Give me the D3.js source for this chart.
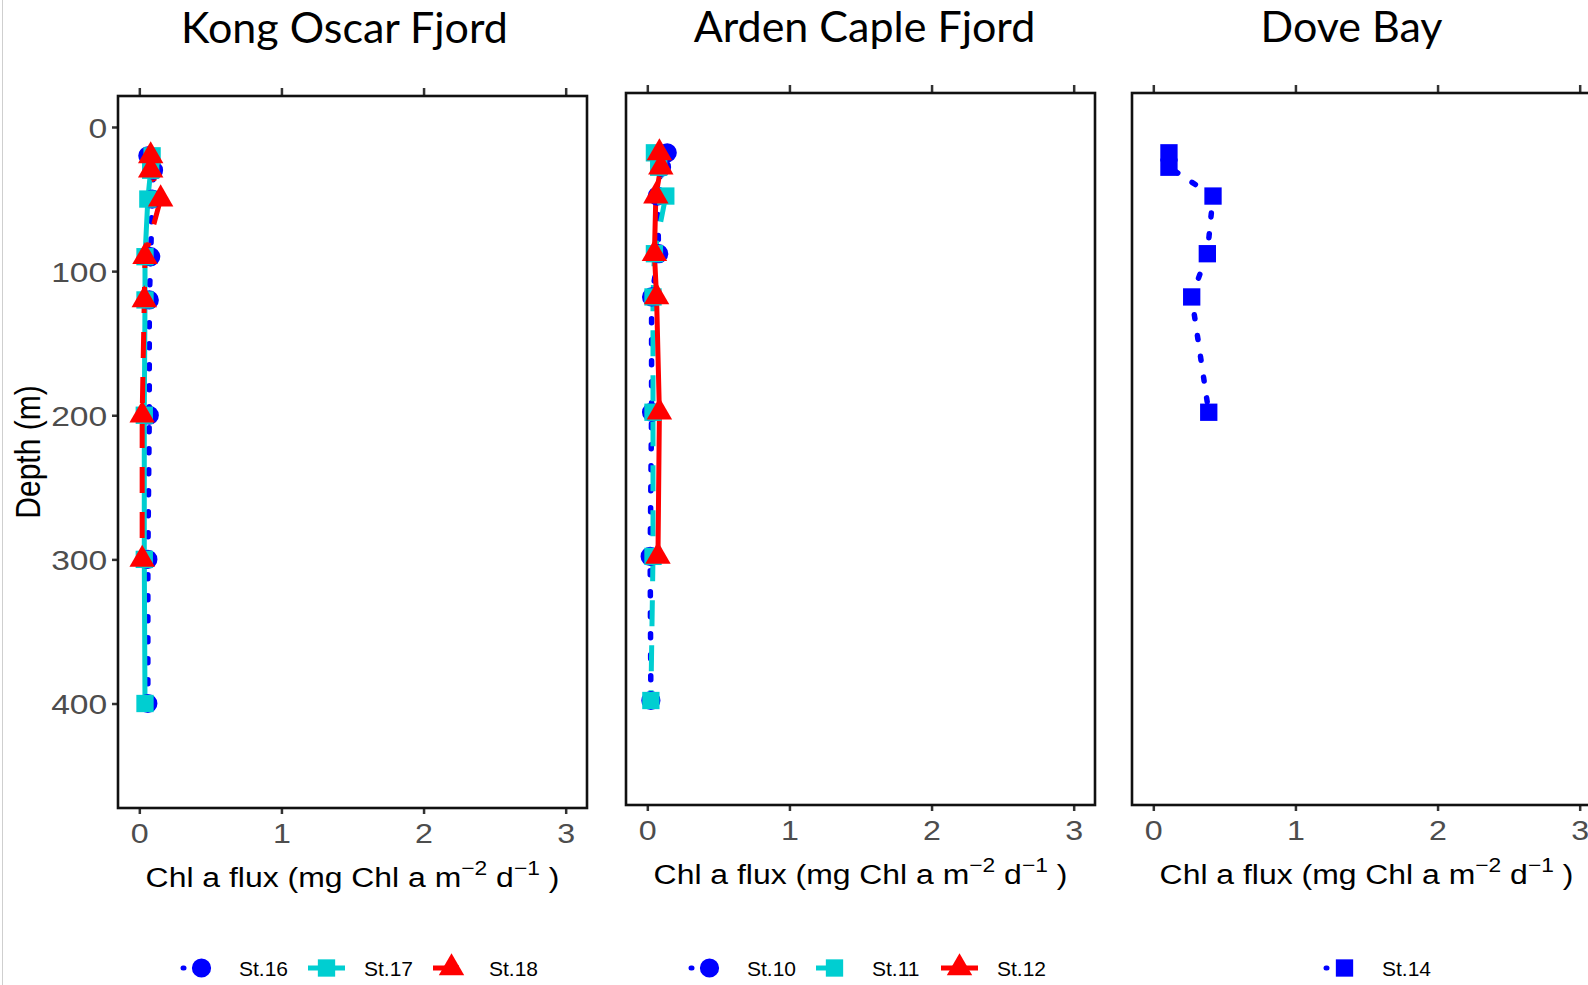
<!DOCTYPE html>
<html>
<head>
<meta charset="utf-8">
<script src="https://cdn.jsdelivr.net/npm/d3@7/dist/d3.min.js"></script>
<style>
  body { margin: 0; background: #fff; }
  svg { display: block; }
</style>
</head>
<body>
<svg id="grafico"></svg>
<script>
// Dados (profundidade em m, fluxo em mg Chl a m-2 d-1)
let titulos = ["Kong Oscar Fjord", "Arden Caple Fjord", "Dove Bay"];
let ticksX = [0, 1, 2, 3];
let ticksY = [0, 100, 200, 300, 400];

// Kong Oscar Fjord
let prof16 = [20, 30, 50, 90, 120, 200, 300, 400];
let fluxo16 = [0.06, 0.1, 0.09, 0.08, 0.07, 0.07, 0.06, 0.06];
let prof17 = [20, 30, 50, 90, 120, 200, 300, 400];
let fluxo17 = [0.09, 0.08, 0.06, 0.04, 0.04, 0.035, 0.035, 0.04];
let prof18 = [20, 30, 50, 90, 120, 200, 300];
let fluxo18 = [0.08, 0.08, 0.15, 0.04, 0.035, 0.02, 0.02];

// Arden Caple Fjord
let prof10 = [20, 30, 50, 90, 120, 200, 300, 400];
let fluxo10 = [0.14, 0.1, 0.07, 0.08, 0.03, 0.03, 0.02, 0.025];
let prof11 = [20, 30, 50, 90, 120, 200, 300, 400];
let fluxo11 = [0.05, 0.08, 0.13, 0.05, 0.04, 0.04, 0.04, 0.025];
let prof12 = [20, 30, 50, 90, 120, 200, 300];
let fluxo12 = [0.085, 0.095, 0.06, 0.05, 0.065, 0.085, 0.075];

// Dove Bay
let prof14 = [20, 30, 50, 90, 120, 200];
let fluxo14 = [0.11, 0.11, 0.42, 0.38, 0.27, 0.39];

// Estilos
let azul = "#0000ff", ciano = "#00ced1", vermelho = "#ff0000";
let tracos = { pontilhado: "4,17", tracejado: "26,19", solido: null };

let paineis = [
  {
    titulo: titulos[0], esq: 118, topo: 96, desvioTitulo: -8,
    series: [
      { nome: "St.16", prof: prof16, val: fluxo16, cor: azul, linha: "pontilhado", simbolo: d3.symbolCircle },
      { nome: "St.17", prof: prof17, val: fluxo17, cor: ciano, linha: "solido", simbolo: d3.symbolSquare },
      { nome: "St.18", prof: prof18, val: fluxo18, cor: vermelho, linha: "tracejado", simbolo: d3.symbolTriangle }
    ]
  },
  {
    titulo: titulos[1], esq: 626, topo: 93, desvioTitulo: 4,
    series: [
      { nome: "St.10", prof: prof10, val: fluxo10, cor: azul, linha: "pontilhado", simbolo: d3.symbolCircle },
      { nome: "St.11", prof: prof11, val: fluxo11, cor: ciano, linha: "tracejado", simbolo: d3.symbolSquare },
      { nome: "St.12", prof: prof12, val: fluxo12, cor: vermelho, linha: "solido", simbolo: d3.symbolTriangle }
    ]
  },
  {
    titulo: titulos[2], esq: 1132, topo: 93, desvioTitulo: -15,
    series: [
      { nome: "St.14", prof: prof14, val: fluxo14, cor: azul, linha: "pontilhado", simbolo: d3.symbolSquare }
    ]
  }
];

let tamanhos = new Map([[d3.symbolCircle, 290], [d3.symbolSquare, 300], [d3.symbolTriangle, 280]]);

let largura = 1588, altura = 985;
let svg = d3.select("#grafico").attr("width", largura).attr("height", altura);
let fonteR = "'Liberation Sans', Arial, sans-serif";

// borda cinza à esquerda
svg.append("line")
  .attr("x1", 2.5).attr("x2", 2.5).attr("y1", 0).attr("y2", altura)
  .attr("stroke", "#cfcfcf").attr("stroke-width", 1);

// eixo Y titulo
svg.append("text")
  .attr("transform", "translate(40,452) rotate(-90) scale(1,1.15)")
  .attr("text-anchor", "middle")
  .style("font-family", fonteR)
  .style("font-size", "30px")
  .attr("fill", "#000")
  .text("Depth (m)");

let larguraPlot = 469, alturaPlot = 712;

paineis.forEach((p, i) => {
  let fnX = d3.scaleLinear().domain([-0.15, 3.15]).range([p.esq, p.esq + larguraPlot]);
  let fnY = d3.scaleLinear().domain([-21.5, 472.5]).range([p.topo, p.topo + alturaPlot]);
  let cx = p.esq + larguraPlot / 2;
  let g = svg.append("g");

  // titulo
  svg.append("text")
    .attr("x", cx + p.desvioTitulo)
    .attr("y", p.topo == 96 ? 43 : 42)
    .attr("text-anchor", "middle")
    .style("font-family", "Lato, 'Open Sans', sans-serif")
    .style("font-size", "43px")
    .attr("fill", "#000")
    .text(p.titulo);

  // eixo inferior
  let eixoX = g.append("g")
    .attr("transform", `translate(0,${p.topo + alturaPlot})`)
    .call(d3.axisBottom(fnX).tickValues(ticksX).tickSize(6).tickPadding(9).tickFormat(d3.format("d")));
  // ticks superiores
  let eixoTopo = g.append("g")
    .attr("transform", `translate(0,${p.topo})`)
    .call(d3.axisTop(fnX).tickValues(ticksX).tickSize(8).tickFormat(""));
  // eixo esquerdo
  let eixoY = g.append("g")
    .attr("transform", `translate(${p.esq},0)`)
    .call(d3.axisLeft(fnY).tickValues(ticksY).tickSize(6).tickPadding(3).tickFormat(d3.format("d")));

  if (i > 0) {
    // rótulos cortados no original
    let idClip = "corte" + i;
    svg.append("clipPath").attr("id", idClip)
      .append("rect").attr("x", p.esq - (i == 1 ? 15 : 8)).attr("y", 0).attr("width", 20).attr("height", altura);
    eixoY.attr("clip-path", `url(#${idClip})`);
  }

  [eixoX, eixoTopo, eixoY].forEach((e) => {
    e.select(".domain").remove();
    e.selectAll(".tick line").attr("stroke", "#333").attr("stroke-width", 2.5);
    e.selectAll(".tick text")
      .attr("fill", "#4d4d4d")
      .style("font-family", fonteR)
      .style("font-size", "28px");
  });
  eixoX.selectAll(".tick text").attr("transform", "scale(1.15,1)").attr("dy", "0.72em");
  eixoY.selectAll(".tick text").attr("transform", "scale(1.2,1)").attr("dy", "0.36em");

  // caixa
  g.append("rect")
    .attr("x", p.esq).attr("y", p.topo)
    .attr("width", larguraPlot).attr("height", alturaPlot)
    .attr("fill", "none").attr("stroke", "#111").attr("stroke-width", 2.6);

  // titulo do eixo X
  let tx = svg.append("text")
    .attr("transform", `translate(${cx},${p.topo + alturaPlot + 79}) scale(1.14,1)`)
    .attr("text-anchor", "middle")
    .style("font-family", fonteR)
    .style("font-size", "28px")
    .attr("fill", "#000");
  tx.append("tspan").text("Chl a flux (mg Chl a m");
  tx.append("tspan").attr("dy", -12).style("font-size", "20px").text("\u22122");
  tx.append("tspan").attr("dy", 12).text(" d");
  tx.append("tspan").attr("dy", -12).style("font-size", "20px").text("\u22121");
  tx.append("tspan").attr("dy", 12).text(" )");

  // linhas e pontos
  let fnLinha = d3.line().x((d) => fnX(d[1])).y((d) => fnY(d[0]));
  let plot = g.append("g");
  p.series.forEach((s) => {
    plot.append("path")
      .datum(d3.zip(s.prof, s.val))
      .attr("d", fnLinha)
      .attr("fill", "none")
      .attr("stroke", s.cor)
      .attr("stroke-width", s.linha == "pontilhado" ? 5.5 : 5)
      .attr("stroke-linecap", s.linha == "pontilhado" ? "round" : "butt")
      .attr("stroke-dasharray", tracos[s.linha]);
  });
  p.series.forEach((s) => {
    plot.selectAll(null)
      .data(d3.zip(s.prof, s.val))
      .enter()
      .append("path")
      .attr("transform", (d) => `translate(${fnX(d[1])},${fnY(d[0])})`)
      .attr("d", d3.symbol(s.simbolo, tamanhos.get(s.simbolo)))
      .attr("fill", s.cor);
  });

  // legenda
  let passo = 125, chave = 37;
  let n = p.series.length;
  let total = (n - 1) * passo + chave + 56;
  let inicio = cx + (n == 1 ? 6 : 2) - total / 2;
  let yLeg = 968;
  let leg = svg.append("g");
  p.series.forEach((s, k) => {
    let x0 = inicio + k * passo;
    leg.append("line")
      .attr("x1", x0).attr("x2", x0 + chave).attr("y1", yLeg).attr("y2", yLeg)
      .attr("stroke", s.cor).attr("stroke-width", 5)
      .attr("stroke-linecap", s.linha == "pontilhado" ? "round" : "butt")
      .attr("stroke-dasharray", s.linha == "pontilhado" ? "1,40" : tracos[s.linha]);
    leg.append("path")
      .attr("transform", `translate(${x0 + chave / 2},${yLeg})`)
      .attr("d", d3.symbol(s.simbolo, tamanhos.get(s.simbolo)))
      .attr("fill", s.cor);
    leg.append("text")
      .attr("x", x0 + 56).attr("y", yLeg + 7.5)
      .style("font-family", fonteR)
      .style("font-size", "21px")
      .attr("fill", "#000")
      .text(s.nome);
  });
});
</script>
</body>
</html>
